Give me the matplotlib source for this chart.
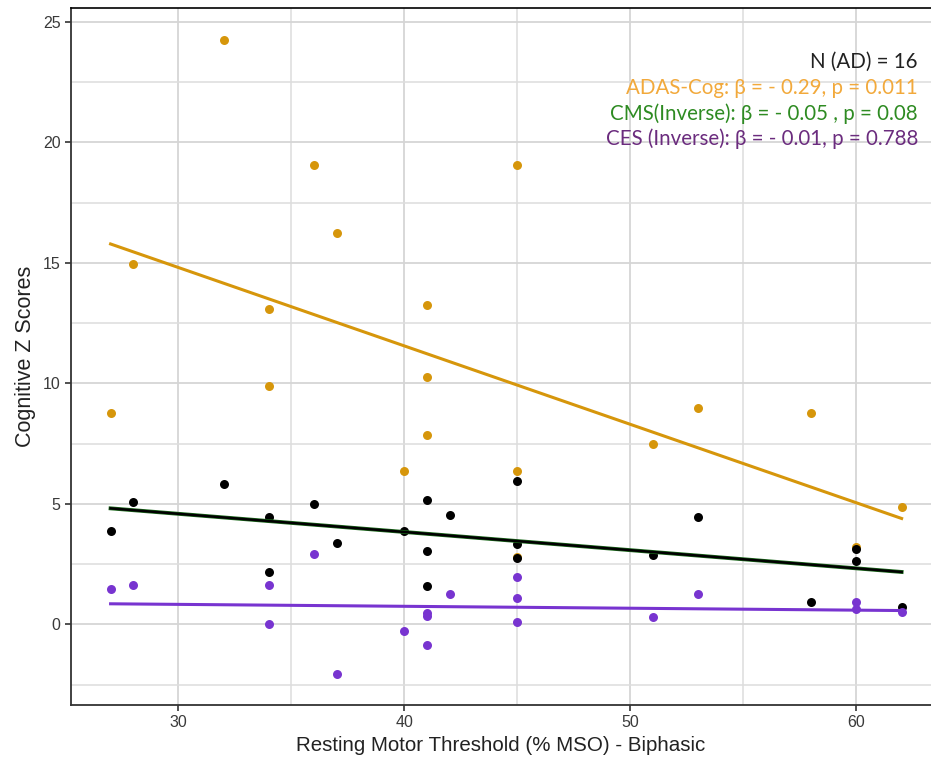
import matplotlib.pyplot as plt
import numpy as np

# ADAS-Cog
adas_x = [27, 28, 32, 34, 34, 36, 37, 40, 41, 41, 41, 45, 45, 45, 51, 53, 58, 60, 62]
adas_y = [8.78, 14.94, 24.24, 13.07, 9.90, 19.05, 16.24, 6.35, 13.26, 10.26, 7.85,
          19.05, 6.35, 2.8, 7.48, 8.96, 8.78, 3.22, 4.86]

# CMS (Inverse)
cms_x = [27, 28, 32, 34, 34, 36, 37, 40, 41, 41, 41, 42, 45, 45, 45, 51, 53, 58, 60, 60, 62]
cms_y = [3.87, 5.08, 5.83, 4.44, 2.19, 4.99, 3.39, 3.88, 5.14, 3.04, 1.57, 4.54,
         5.93, 3.33, 2.77, 2.89, 4.44, 0.91, 3.12, 2.64, 0.71]

# CES (Inverse)
ces_x = [27, 28, 34, 34, 36, 37, 40, 41, 41, 41, 42, 45, 45, 45, 51, 53, 60, 60, 62]
ces_y = [1.46, 1.61, 1.64, 0.0, 2.90, -2.07, -0.27, 0.47, 0.33, -0.85, 1.27,
         1.97, 1.10, 0.11, 0.32, 1.27, 0.91, 0.63, 0.5]

# fitted lines (value at x=27, value at x=62)
fit_x = [27, 62]
adas_fit = [15.78, 4.39]
cms_fit = [4.81, 2.17]
ces_fit = [0.85, 0.57]

annot = ['N (AD) = 16',
         'ADAS-Cog: β = - 0.29, p = 0.011',
         'CMS(Inverse): β = - 0.05 , p = 0.08',
         'CES (Inverse): β = - 0.01, p = 0.788']
annot_colors = ['#222222', '#F2A93B', '#2E8B22', '#6B2C7E']

orange = '#D6960B'
purple = '#7834D0'

plt.rcParams['font.family'] = ['Liberation Sans', 'DejaVu Sans']

fig = plt.figure(figsize=(9.31, 7.58), dpi=100)
ax = fig.add_axes([0.0763, 0.0699, 1 - 0.0763, 0.9894 - 0.0699])

ax.scatter(adas_x, adas_y, s=42, color=orange, zorder=3, linewidths=0)
ax.scatter(cms_x, cms_y, s=42, color='black', zorder=3, linewidths=0)
ax.scatter(ces_x, ces_y, s=42, color=purple, zorder=3, linewidths=0)

ax.plot(fit_x, adas_fit, color=orange, lw=2.2, zorder=4)
ax.plot(fit_x, cms_fit, color='#1d6b1d', lw=2.8, zorder=4)
ax.plot(fit_x, cms_fit, color='black', lw=1.8, zorder=4)
ax.plot(fit_x, ces_fit, color=purple, lw=2.2, zorder=4)

ax.set_xlim(25.25, 63.3)
ax.set_ylim(-3.35, 25.57)
ax.set_xticks([30, 40, 50, 60])
ax.set_xticks([35, 45, 55], minor=True)
ax.set_yticks([0, 5, 10, 15, 20, 25])
ax.set_yticks([-2.5, 2.5, 7.5, 12.5, 17.5, 22.5], minor=True)
ax.grid(True, which='major', color='#D5D5D5', lw=1.3, zorder=0)
ax.grid(True, which='minor', color='#DDDDDD', lw=1.1, zorder=0)
ax.set_axisbelow(True)

ax.tick_params(which='major', length=4, width=1.2, color='#333333',
               labelcolor='#3a3a3a', labelsize=11.5)
ax.tick_params(which='minor', length=0)
for side in ['left', 'bottom']:
    ax.spines[side].set_color('#333333')
    ax.spines[side].set_linewidth(1.3)
ax.spines['top'].set_color('black')
ax.spines['top'].set_linewidth(1.2)
ax.spines['right'].set_visible(False)

ax.set_xlabel('Resting Motor Threshold (% MSO) - Biphasic', fontsize=14.8, color='#222222', labelpad=4)
ax.set_ylabel('Cognitive Z Scores', fontsize=15.5, color='#222222', labelpad=5)

for i, (t, c) in enumerate(zip(annot, annot_colors)):
    fig.text(918 / 931, 1 - (62 + i * 25.7) / 758, t, color=c, fontsize=14.8,
             ha='right', va='center', family=['Lato', 'DejaVu Sans'])

fig.savefig('out.png', dpi=100)
